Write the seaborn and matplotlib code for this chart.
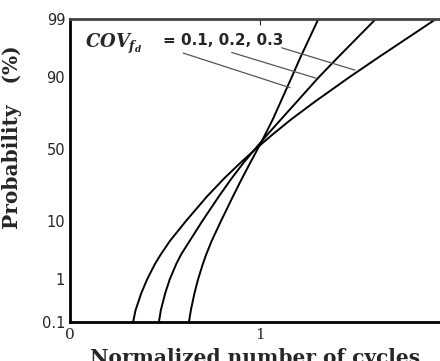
from statistics import NormalDist

import matplotlib
matplotlib.use("Agg")
import matplotlib.pyplot as plt
import numpy as np
import pandas as pd
import seaborn as sns

# probability levels (%) read along the y axis
prob = [0.1, 0.2, 0.5, 1, 2, 3, 5, 10, 20, 30, 40, 50, 60, 70, 80, 90, 95, 99]

# normalized number of cycles for each COV curve
cycles_cov01 = [0.626, 0.636, 0.655, 0.674, 0.699, 0.717, 0.745, 0.795, 0.858,
                0.905, 0.947, 0.987, 1.026, 1.066, 1.108, 1.166, 1.213, 1.307]
cycles_cov02 = [0.468, 0.478, 0.501, 0.525, 0.559, 0.585, 0.629, 0.697, 0.784,
                0.850, 0.911, 0.973, 1.037, 1.108, 1.192, 1.308, 1.411, 1.609]
cycles_cov03 = [0.332, 0.345, 0.375, 0.406, 0.447, 0.478, 0.525, 0.611, 0.722,
                0.811, 0.894, 0.976, 1.063, 1.161, 1.286, 1.468, 1.625, 1.926]
cov_labels = ["0.1", "0.2", "0.3"]

y_ticks = [0.1, 1, 10, 50, 90, 99]
y_minor = [0.2, 0.3, 0.4, 0.5, 0.6, 0.7, 0.8, 0.9, 2, 3, 4, 5, 6, 7, 8, 9,
           20, 30, 40, 60, 70, 80, 95]
x_ticks = [0, 1]

# leader lines: (x start, p start) -> (x end, p end)
leader_start_x = [0.596, 0.851, 1.114]
leader_start_p = [95.7, 95.8, 96.5]
leader_end_x = [1.158, 1.298, 1.50]
leader_end_p = [86.4, 89.7, 92.1]

rows = []
for cov, xs in zip(cov_labels, [cycles_cov01, cycles_cov02, cycles_cov03]):
    for p, x in zip(prob, xs):
        rows.append({"cov": cov, "cycles": x, "prob": p})
df = pd.DataFrame(rows)

_nd = NormalDist()


def p_to_z(p):
    p = np.clip(np.asarray(p, dtype=float) / 100.0, 1e-9, 1 - 1e-9)
    return np.vectorize(_nd.inv_cdf)(p)


def z_to_p(z):
    return np.vectorize(_nd.cdf)(np.asarray(z, dtype=float)) * 100.0


sns.set_style("white")
plt.rcParams["font.family"] = ["DejaVu Sans"]
plt.rcParams["mathtext.fontset"] = "custom"
plt.rcParams["mathtext.it"] = "DejaVu Serif:italic:bold"
plt.rcParams["mathtext.rm"] = "DejaVu Serif:bold"

fig = plt.figure(figsize=(4.4, 3.61), dpi=100)
ax = fig.add_axes([70 / 440, 39 / 361, 1 - 70 / 440, 303 / 361])

sns.lineplot(data=df, x="cycles", y="prob", hue="cov", palette=["black"] * 3,
             estimator=None, sort=False, linewidth=1.4, legend=False, ax=ax)

ax.set_yscale("function", functions=(p_to_z, z_to_p))
ax.set_ylim(0.1, 99)
ax.set_xlim(0, 1.947)

ax.set_yticks(y_ticks)
ax.set_yticklabels([f"{t:g}" for t in y_ticks], fontsize=10.5)
ax.set_yticks(y_minor, minor=True)
ax.set_xticks(x_ticks)
ax.set_xticklabels([str(t) for t in x_ticks], fontsize=11, family="DejaVu Serif")
ax.tick_params(axis="both", which="both", direction="in", top=True, right=False)
ax.tick_params(axis="y", which="major", length=5, width=1)
ax.tick_params(axis="y", which="minor", length=3, width=0.8)
ax.tick_params(axis="x", which="major", length=4, width=0.8, pad=4)

for side in ["left", "bottom"]:
    ax.spines[side].set_linewidth(2)
    ax.spines[side].set_color("black")
ax.spines["top"].set_linewidth(2)
ax.spines["top"].set_color("#444444")
ax.spines["right"].set_visible(False)

ax.set_ylabel("Probability   (%)", fontsize=14.5, fontweight="bold",
              family="DejaVu Serif")
ax.yaxis.set_label_coords(-0.13, 0.61)
ax.set_xlabel("Normalized number of cycles", fontsize=14.5, fontweight="bold",
              family="DejaVu Serif", labelpad=5)

for xs, ps, xe, pe in zip(leader_start_x, leader_start_p, leader_end_x, leader_end_p):
    ax.plot([xs, xe], [ps, pe], color="#555555", linewidth=0.9)

ax.text(0.08, 97.0, r"$COV_{f_d}$", fontsize=13, va="center", ha="left")
ax.text(0.49, 97.35, "= 0.1, 0.2, 0.3", fontsize=11, fontweight="bold",
        va="center", ha="left")

fig.savefig("out.png", dpi=100)
